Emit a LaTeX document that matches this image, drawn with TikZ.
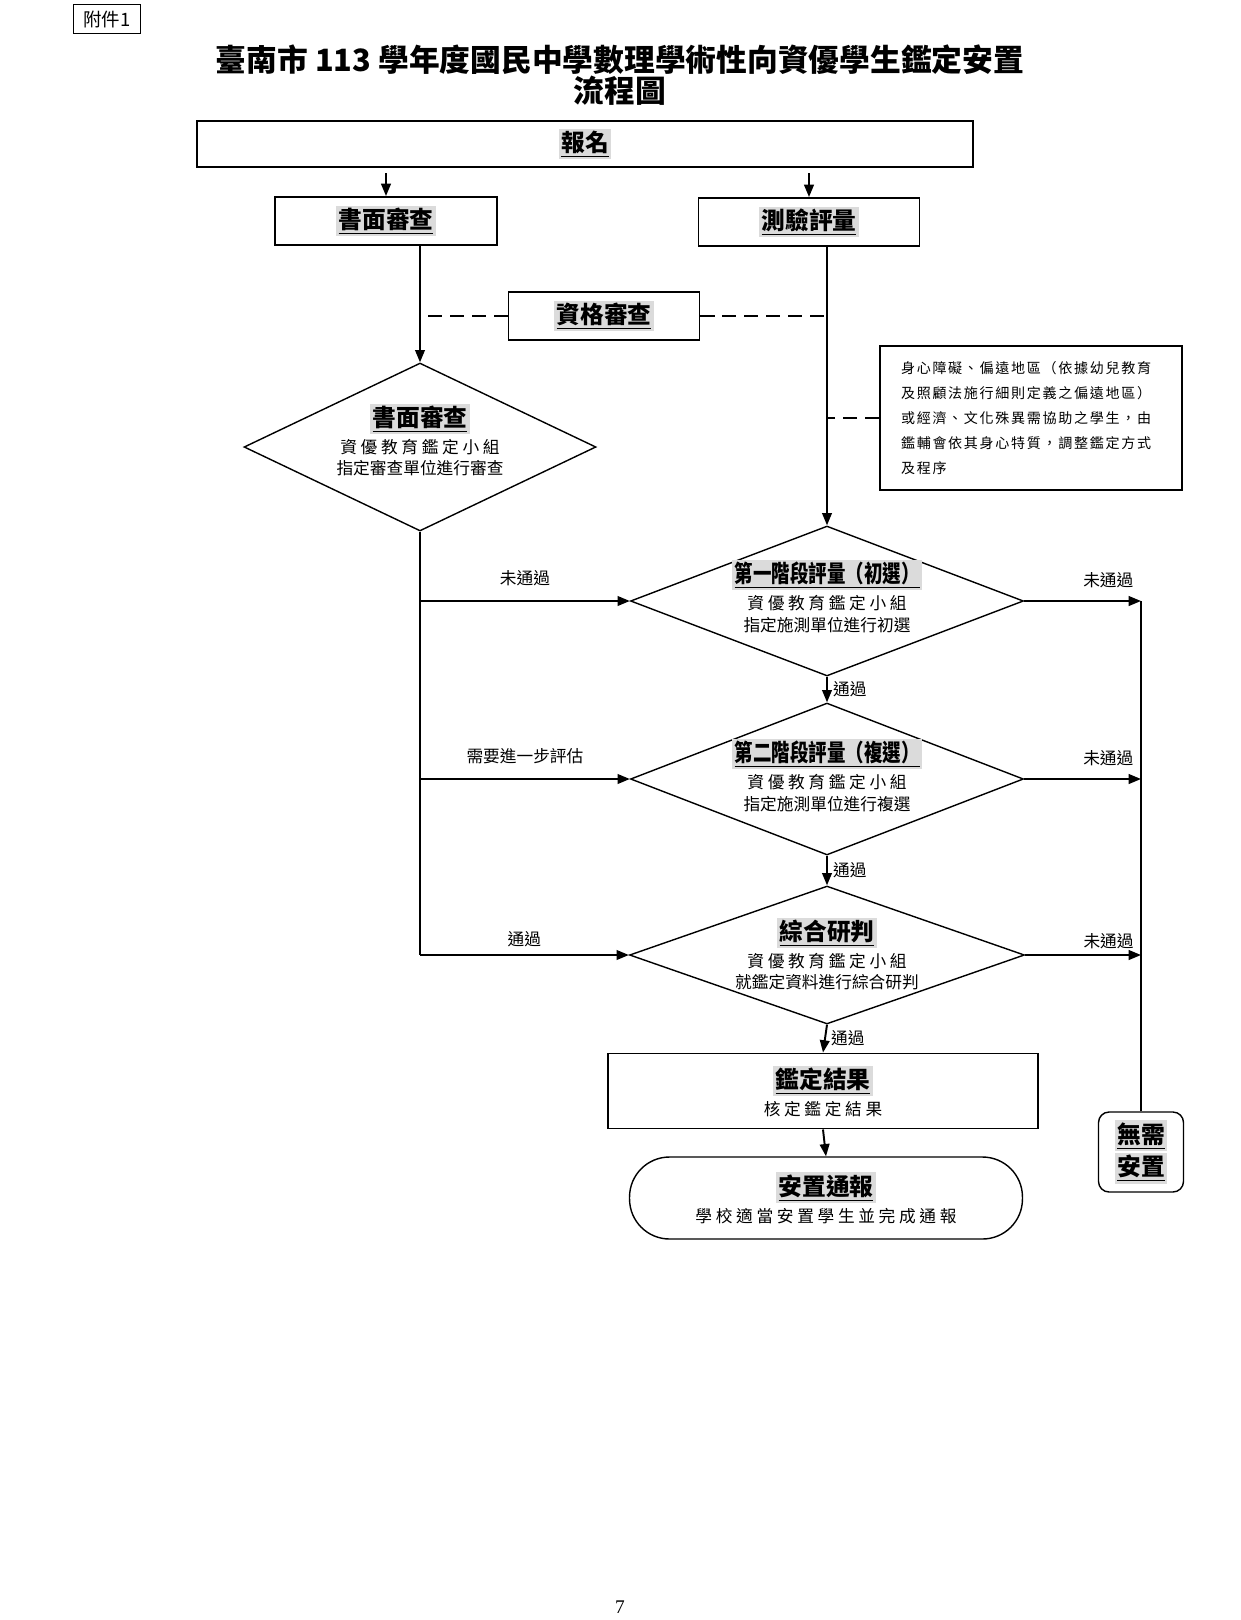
\documentclass[tikz,border=0pt]{standalone}
\usepackage{fontspec}
\setmainfont{Noto Sans CJK TC}
\newfontfamily\pgnum{Liberation Serif}
\usepackage{graphicx}
\usepackage{xcolor}
\usepackage{tikz}
\usetikzlibrary{arrows.meta,calc,positioning,shapes.geometric}

% heading text with grey mark and underline
\newcommand\hd[1]{{\fontsize{13.5}{15}\selectfont\bfseries\setlength\fboxsep{1.2pt}\colorbox{black!14}{\underline{#1}}}}
\newcommand\wide[1]{{\fontsize{9.5}{11.5}\selectfont\addfontfeature{LetterSpace=22}#1}}
\newcommand\notefont{\fontsize{8}{14.3}\selectfont\addfontfeature{LetterSpace=12}}

\tikzset{
  box/.style={draw, line width=1.1pt, inner sep=0pt, align=center, font=\fontsize{9.5}{15.3}\selectfont},
  dia/.style={draw, diamond, line width=0.8pt, inner sep=0pt},
  dtext/.style={align=center, inner sep=0pt, font=\fontsize{9.5}{12}\selectfont},
  conn/.style={line width=1.1pt},
  arr/.style={conn, -{Triangle[length=7pt,width=5.5pt]}},
  dashline/.style={line width=0.9pt, dash pattern=on 8pt off 4.5pt},
  lbl/.style={font=\fontsize{9.5}{11}\selectfont, inner sep=1pt}
}

\begin{document}
\begin{tikzpicture}[x=0.02cm, y=-0.02cm]
\useasboundingbox (0,0) rectangle (1241,1620);
\fill[white] (0,0) rectangle (1241,1620);

\node[draw, line width=0.6pt, minimum width=1.34cm, minimum height=0.58cm, inner sep=0pt, font=\fontsize{10.5}{12}\selectfont] (att) at (107,19) {附件1};
\node[font=\fontsize{17.5}{20}\selectfont\bfseries] (title) at (620,60) {臺南市 113 學年度國民中學數理學術性向資優學生鑑定安置};
\node[font=\fontsize{17.5}{20}\selectfont\bfseries] (title2) at (620,91) {流程圖};

% boxes
\node[box, minimum width=15.54cm, minimum height=0.92cm] (signup) at (585,144) {\hd{報名}};
\node[box, minimum width=4.44cm, minimum height=0.96cm] (paper) at (386,221) {\hd{書面審查}};
\node[box, minimum width=4.42cm, minimum height=0.96cm] (test) at (809,222) {\hd{測驗評量}};
\node[box, minimum width=3.82cm, minimum height=0.96cm] (qual) at (604,316) {\hd{資格審查}};
\node[box, minimum width=6.04cm, minimum height=2.88cm, align=left, text width=5.2cm, font=\notefont] (note) at (1031,418)
  {身心障礙、偏遠地區（依據幼兒教育\\及照顧法施行細則定義之偏遠地區）\\或經濟、文化殊異需協助之學生，由\\鑑輔會依其身心特質，調整鑑定方式\\及程序};

% diamonds
\node[dia, minimum width=7.04cm, minimum height=3.36cm] (d0) at (420,447) {};
\node[dia, minimum width=7.86cm, minimum height=3.0cm] (d1) at (827,601) {};
\node[dia, minimum width=7.86cm, minimum height=3.04cm] (d2) at (827,779) {};
\node[dia, minimum width=7.9cm, minimum height=2.76cm] (d3) at (827,955) {};

\node[dtext] (d0t) at (420,440) {\hd{書面審查}\\[2pt]\wide{資優教育鑑定小組}\\指定審查單位進行審查};
\node[dtext] (d1t) at (827,596) {\hd{\scalebox{0.78}[1]{第一階段評量（初選）}}\\[2pt]\wide{資優教育鑑定小組}\\指定施測單位進行初選};
\node[dtext] (d2t) at (827,775) {\hd{\scalebox{0.78}[1]{第二階段評量（複選）}}\\[2pt]\wide{資優教育鑑定小組}\\指定施測單位進行複選};
\node[dtext] (d3t) at (827,954) {\hd{綜合研判}\\[2pt]\wide{資優教育鑑定小組}\\就鑑定資料進行綜合研判};

\node[box, minimum width=8.6cm, minimum height=1.5cm] (result) at (823,1091) {\hd{鑑定結果}\\\wide{核定鑑定結果}};
\node[box, line width=0.8pt, rounded corners=0.8cm, minimum width=7.86cm, minimum height=1.64cm] (place) at (826,1198) {\hd{安置通報}\\\wide{學校適當安置學生並完成通報}};
\node[box, line width=0.8pt, rounded corners=6pt, minimum width=1.7cm, minimum height=1.6cm, font=\fontsize{13.3}{14.7}\selectfont] (noplace) at (1141,1152) {\hd{無需}\\\hd{安置}};

% connectors
\draw[arr, shorten <=3pt] (signup.south -| paper.north) -- (paper.north);
\draw[arr, shorten <=3pt] (signup.south -| test.north) -- (test.north);
\draw[arr] (paper.south -| d0.north) -- (d0.north);
\draw[arr] (test.south -| d1.north) -- (d1.north);
\draw[dashline] (qual.west) -- (qual.west -| d0.north);
\draw[dashline] (qual.east) -- (qual.east -| d1.north);
\draw[dashline] (note.west) -- (note.west -| d1.north);

\draw[conn] (d0.south) -- (d0.south |- d3.west);
\draw[arr] (d0.south |- d1.west) -- node[lbl, above=7pt] {未通過} (d1.west);
\draw[arr] (d0.south |- d2.west) -- node[lbl, above=7pt] {需要進一步評估} (d2.west);
\draw[arr] (d0.south |- d3.west) -- node[lbl, above=3pt] {通過} (d3.west);

\draw[arr] (d1.south) -- node[lbl, right=2pt] {通過} (d2.north);
\draw[arr] (d2.south) -- node[lbl, right=2pt] {通過} (d3.north);
\draw[arr] (d3.south) -- node[lbl, right=2pt] {通過} (result.north);
\draw[arr] (result.south) -- (place.north);

\draw[conn] (noplace.north) -- (noplace.north |- d1.east);
\draw[arr] (d1.east) -- node[lbl, above=6pt, pos=0.72] {未通過} (d1.east -| noplace.north);
\draw[arr] (d2.east) -- node[lbl, above=6pt, pos=0.72] {未通過} (d2.east -| noplace.north);
\draw[arr] (d3.east) -- node[lbl, above=2pt, pos=0.72] {未通過} (d3.east -| noplace.north);

\node[font=\fontsize{11}{13}\selectfont\pgnum] (pg) at (620,1607) {7};
\end{tikzpicture}
\end{document}
